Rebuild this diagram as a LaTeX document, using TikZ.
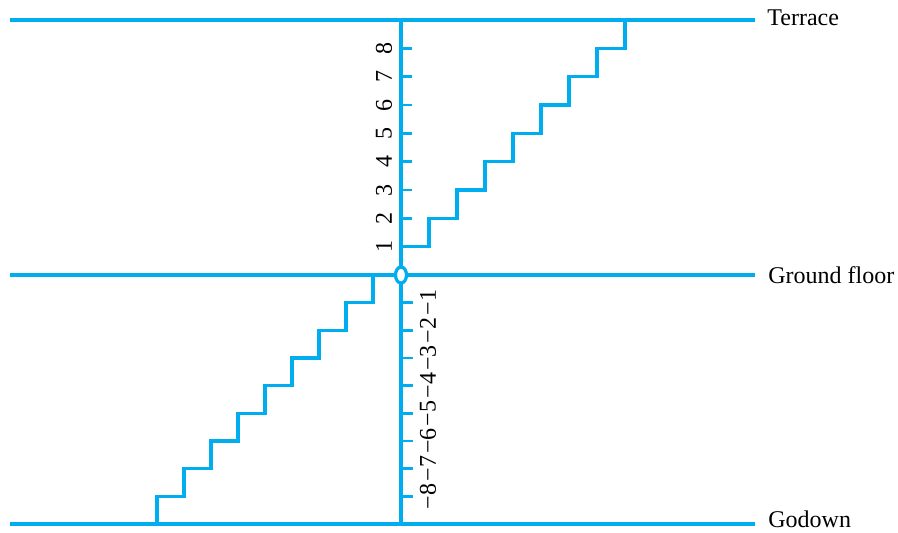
\documentclass[tikz,border=0pt]{standalone}
\usepackage{fontspec}
\setmainfont{Liberation Serif}
\usetikzlibrary{shapes.geometric}
\definecolor{stairblue}{RGB}{0,174,239}

\begin{document}
\begin{tikzpicture}[
    x=0.5pt, y=-0.5pt,
    floor/.style={stairblue, line width=1.6pt},
    stair/.style={stairblue, line width=1.6pt, line join=miter},
    tick/.style={stairblue, line width=1.4pt},
    level/.style={anchor=base west, inner sep=0pt, font=\fontsize{12}{14}\selectfont},
    num/.style={rotate=90, inner sep=0pt, font=\fontsize{12}{14}\selectfont}
]
\useasboundingbox (0,0) rectangle (898,532);

% floors and their names
\node[level] (terrace) at (767,25) {Terrace};
\node[level] (ground) at (768,283) {Ground floor};
\node[level] (godown) at (768,527) {Godown};
\draw[floor] (10,20) -- (755,20);
\draw[floor] (10,275) -- (755,275);
\draw[floor] (10,524) -- (755,524);

% staircase up to the terrace
\draw[stair] (401,246.67) \foreach \i in {1,...,8} { -- ++(28,0) -- ++(0,-28.33) };

% staircase down to the godown
\draw[stair] (373,275) \foreach \i in {1,...,8} { -- ++(0,27.67) -- ++(-27,0) } -- ++(0,27.67);

% steps numbered along the axis
\draw[floor] (401,20) -- (401,524);
\foreach \k in {1,...,8} {
    \draw[tick] (401,275-\k*28.33) -- ++(11,0);
    \node[num] (up\k) at (384,275-\k*28.33) {\k};
    \draw[tick] (401,275+\k*27.67) -- ++(12,0);
    \node[num] (down\k) at (428,275+\k*27.67) {−\k};
}
\node[ellipse, draw=stairblue, line width=1.6pt, fill=white, inner sep=0pt,
      minimum width=5.5pt, minimum height=8pt] (origin) at (401,275) {};

\end{tikzpicture}
\end{document}
